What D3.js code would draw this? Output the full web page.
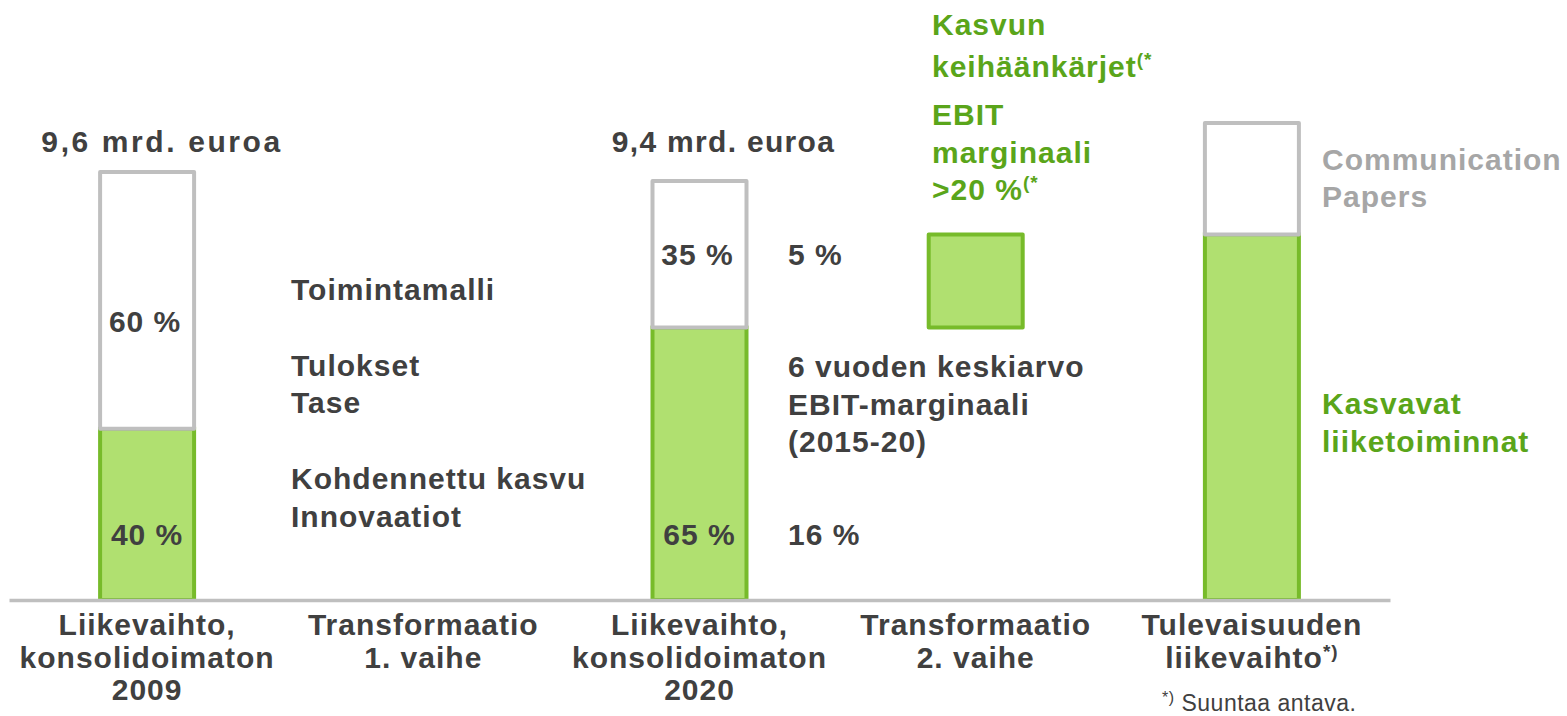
<!DOCTYPE html>
<html>
<head>
<meta charset="utf-8">
<script src="https://cdn.jsdelivr.net/npm/d3@7"></script>
<style>
  html, body { margin: 0; padding: 0; background: #ffffff; }
  svg { display: block; font-family: "Liberation Sans", Arial, sans-serif; font-weight: bold; }
  svg text { letter-spacing: 1px; }
</style>
</head>
<body>
<svg id="chart" width="1567" height="716"></svg>
<script>
// ---- data ----
const categories = ["Liikevaihto 2009", "Transformaatio 1", "Liikevaihto 2020", "Transformaatio 2", "Tulevaisuus"];
const categoryLabels = [
  ["Liikevaihto,", "konsolidoimaton", "2009"],
  ["Transformaatio", "1. vaihe"],
  ["Liikevaihto,", "konsolidoimaton", "2020"],
  ["Transformaatio", "2. vaihe"],
  ["Tulevaisuuden", "liikevaihto"]
];
const barCategories = ["Liikevaihto 2009", "Liikevaihto 2020", "Tulevaisuus"];
const revenueTotals = [9.6, 9.4, 10.7];          // mrd. euroa (future illustrative)
const growthValues = [3.84, 6.11, 8.2];          // green part (kasvavat liiketoiminnat)
const growthLabels = ["40 %", "65 %", ""];
const otherLabels = ["60 %", "35 %", ""];
const totalLabels = ["9,6 mrd. euroa", "9,4 mrd. euroa", ""];
const spearheadCategory = "Transformaatio 2";
const spearheadBase = 6.11;
const spearheadValue = 2.09;
const transformation1Notes = ["Toimintamalli", "", "Tulokset", "Tase", "", "Kohdennettu kasvu", "Innovaatiot"];
const transformation2Notes = ["6 vuoden keskiarvo", "EBIT-marginaali", "(2015-20)"];
const marginLabels = ["5 %", "16 %"];

// ---- setup ----
const svg = d3.select("#chart");
const dark = "#404040", green = "#5aa51a", gray = "#a6a6a6";
const fillGreen = "#b0e070", strokeGreen = "#77bb2a", strokeGray = "#bfbfbf";
const fs = 30;

const x = d3.scaleBand().domain(categories).range([9, 1390]).paddingInner(0).paddingOuter(0);
const cx = c => x(c) + x.bandwidth() / 2;
const y = d3.scaleLinear().domain([0, 9.6]).range([600, 172]);
const barW = 94;

const bars = barCategories.map((c, i) => ({
  c, i, total: revenueTotals[i], growth: growthValues[i],
  gl: growthLabels[i], ol: otherLabels[i], tl: totalLabels[i]
}));

// green (growth) segments
svg.append("g").selectAll("rect").data(bars).join("rect")
  .attr("x", d => cx(d.c) - barW / 2)
  .attr("width", barW)
  .attr("y", d => y(d.growth))
  .attr("height", d => y(0) - y(d.growth))
  .attr("fill", fillGreen)
  .attr("stroke", strokeGreen)
  .attr("stroke-width", 4);

// gray (other) segments
svg.append("g").selectAll("rect").data(bars).join("rect")
  .attr("x", d => cx(d.c) - barW / 2)
  .attr("width", barW)
  .attr("y", d => y(d.total))
  .attr("height", d => y(d.growth) - y(d.total))
  .attr("fill", "#ffffff")
  .attr("stroke", strokeGray)
  .attr("stroke-width", 4)
  .attr("stroke-linejoin", "round");

// spearhead square
svg.append("rect")
  .attr("x", cx(spearheadCategory) - barW / 2)
  .attr("width", barW)
  .attr("y", y(spearheadBase + spearheadValue))
  .attr("height", y(spearheadBase) - y(spearheadBase + spearheadValue))
  .attr("fill", fillGreen)
  .attr("stroke", strokeGreen)
  .attr("stroke-width", 4)
  .attr("stroke-linejoin", "round");

// axis
const axis = svg.append("g").attr("transform", `translate(0,${y(0)})`)
  .call(d3.axisBottom(x).tickSize(0).tickSizeOuter(0).tickFormat(""));
axis.select(".domain").attr("stroke", strokeGray).attr("stroke-width", 3.5);

// category labels
const labG = svg.append("g");
categories.forEach((c, i) => {
  const t = labG.append("text").attr("x", cx(c)).attr("y", 635)
    .attr("text-anchor", "middle").attr("fill", dark).attr("font-size", fs);
  categoryLabels[i].forEach((line, j) => {
    t.append("tspan").attr("x", cx(c)).attr("dy", j === 0 ? 0 : 32.5).text(line);
  });
  if (c === "Tulevaisuus") {
    t.append("tspan").attr("font-size", 19).attr("dy", -10).text("*)");
  }
});

// value labels inside bars
svg.append("g").selectAll("text").data(bars).join("text")
  .attr("x", d => cx(d.c)).attr("y", 545)
  .attr("text-anchor", "middle").attr("fill", dark).attr("font-size", fs)
  .text(d => d.gl);
svg.append("g").selectAll("text").data(bars).join("text")
  .attr("x", d => cx(d.c) - 2)
  .attr("y", d => d.i === 0 ? 332 : (y(d.total) + y(d.growth)) / 2 + 11)
  .attr("text-anchor", "middle").attr("fill", dark).attr("font-size", fs)
  .text(d => d.ol);
svg.append("g").selectAll("text").data(bars).join("text")
  .attr("x", d => cx(d.c) + (d.i === 0 ? 15 : 24)).attr("y", 152)
  .attr("text-anchor", "middle").attr("fill", dark).attr("font-size", fs)
  .style("letter-spacing", d => d.i === 0 ? "2.6px" : "1.3px")
  .text(d => d.tl);

// transformation 1 notes
const t1 = svg.append("text").attr("x", 291).attr("y", 300).attr("fill", dark).attr("font-size", fs);
transformation1Notes.forEach((line, j) => {
  t1.append("tspan").attr("x", 291).attr("dy", j === 0 ? 0 : 37.8).text(line === "" ? "\u00a0" : line);
});

// transformation 2 notes
const x2 = 788;
svg.append("text").attr("x", x2).attr("y", 265).attr("fill", dark).attr("font-size", fs).text(marginLabels[0]);
svg.append("text").attr("x", x2).attr("y", 545).attr("fill", dark).attr("font-size", fs).text(marginLabels[1]);
const t2 = svg.append("text").attr("x", x2).attr("y", 377).attr("fill", dark).attr("font-size", fs);
transformation2Notes.forEach((line, j) => {
  t2.append("tspan").attr("x", x2).attr("dy", j === 0 ? 0 : 37.5).text(line);
});

// spearhead text
const sx = 932;
const g1 = svg.append("text").attr("x", sx).attr("y", 35).attr("fill", green).attr("font-size", fs);
g1.append("tspan").attr("x", sx).text("Kasvun");
g1.append("tspan").attr("x", sx).attr("dy", 42).text("keihäänkärjet");
g1.append("tspan").attr("font-size", 19).attr("dy", -11).text("(*");
const g2 = svg.append("text").attr("x", sx).attr("y", 125).attr("fill", green).attr("font-size", fs);
g2.append("tspan").attr("x", sx).text("EBIT");
g2.append("tspan").attr("x", sx).attr("dy", 38).text("marginaali");
g2.append("tspan").attr("x", sx).attr("dy", 37).text(">20 %");
g2.append("tspan").attr("font-size", 19).attr("dy", -11).text("(*");

// future bar legend labels
const lx = 1322;
const c1 = svg.append("text").attr("x", lx).attr("y", 170).attr("fill", gray).attr("font-size", fs);
c1.append("tspan").attr("x", lx).text("Communication");
c1.append("tspan").attr("x", lx).attr("dy", 37).text("Papers");
const c2 = svg.append("text").attr("x", lx).attr("y", 414).attr("fill", green).attr("font-size", fs);
c2.append("tspan").attr("x", lx).text("Kasvavat");
c2.append("tspan").attr("x", lx).attr("dy", 38).text("liiketoiminnat");

// footnote
const fn = svg.append("text").attr("x", 1162).attr("y", 711).attr("fill", dark)
  .attr("font-size", 23).attr("font-weight", "normal").style("letter-spacing", "0.5px");
fn.append("tspan").attr("font-size", 16).attr("dy", -8).text("*)");
fn.append("tspan").attr("dy", 8).text(" Suuntaa antava.");
</script>
</body>
</html>
